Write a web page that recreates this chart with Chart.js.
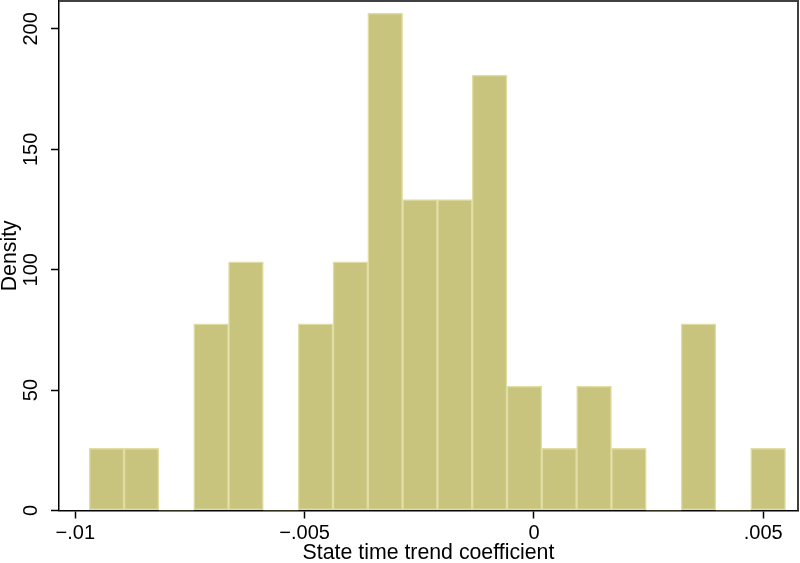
<!DOCTYPE html>
<html>
<head>
<meta charset="utf-8">
<script src="https://cdn.jsdelivr.net/npm/chart.js@4.4.0/dist/chart.umd.min.js"></script>
<style>
  html, body { margin: 0; padding: 0; background: #fff; }
  #wrap { width: 800px; height: 563px; }
</style>
</head>
<body>
<div id="wrap"><canvas id="hist" width="800" height="563"></canvas></div>
<script>
// Bin edges of the histogram (21 edges -> 20 bins)
const binEdges = [-0.009695, -0.008936, -0.008177, -0.007418, -0.006659, -0.005900,
    -0.005141, -0.004382, -0.003623, -0.002864, -0.002105, -0.001346, -0.000587,
    0.000172, 0.000931, 0.001690, 0.002449, 0.003208, 0.003967, 0.004726, 0.005485];
// Density of each bin
const densities = [25.8, 25.8, 0, 77.5, 103.3, 0, 77.5, 103.3, 206.6, 129.1,
    129.1, 180.8, 51.7, 25.8, 51.7, 25.8, 0, 77.5, 0, 25.8];

const xTickValues = [-0.01, -0.005, 0, 0.005];
const xTickLabels = ['\u2212.01', '\u2212.005', '0', '.005'];
const yTickValues = [0, 50, 100, 150, 200];
const yTickLabels = ['0', '50', '100', '150', '200'];

const fontFamily = '"Liberation Sans", Arial, Helvetica, sans-serif';

// bars are placed at the centre of each bin
const points = densities.map((d, i) => ({ x: (binEdges[i] + binEdges[i + 1]) / 2, y: d }));

// Stata-like frame and vertical y tick labels
const framePlugin = {
    id: 'frame',
    afterDraw(chart) {
        const ctx = chart.ctx;
        const area = chart.chartArea;
        const yScale = chart.scales.y;

        ctx.save();
        ctx.strokeStyle = '#404040';
        ctx.lineWidth = 2;
        ctx.beginPath();
        ctx.moveTo(area.left, area.top);
        ctx.lineTo(area.right, area.top);
        ctx.lineTo(area.right, area.bottom);
        ctx.stroke();

        ctx.fillStyle = '#000';
        ctx.font = '20px ' + fontFamily;
        ctx.textAlign = 'center';
        ctx.textBaseline = 'middle';
        yScale.ticks.forEach(t => {
            const idx = yTickValues.indexOf(t.value);
            if (idx < 0) return;
            const y = yScale.getPixelForValue(t.value);
            ctx.save();
            ctx.translate(31, y);
            ctx.rotate(-Math.PI / 2);
            ctx.fillText(yTickLabels[idx], 0, 0);
            ctx.restore();
        });
        ctx.restore();
    }
};

const ctx = document.getElementById('hist').getContext('2d');
new Chart(ctx, {
    type: 'bar',
    data: {
        datasets: [{
            data: points,
            backgroundColor: 'rgb(200, 196, 126)',
            borderColor: 'rgb(224, 221, 164)',
            borderWidth: c => (c.raw && c.raw.y > 0 ? 1.5 : 0),
            borderSkipped: false,
            barPercentage: 1,
            categoryPercentage: 1
        }]
    },
    options: {
        responsive: false,
        animation: false,
        layout: { padding: { top: 1, right: 2, left: 0, bottom: 0 } },
        plugins: {
            legend: { display: false },
            tooltip: { enabled: false }
        },
        scales: {
            x: {
                type: 'linear',
                offset: false,
                min: -0.010355,
                max: 0.005757,
                afterBuildTicks: scale => { scale.ticks = xTickValues.map(v => ({ value: v })); },
                afterFit: scale => { scale.height = 52.5; },
                ticks: {
                    color: '#000',
                    padding: 3,
                    maxRotation: 0,
                    font: { family: fontFamily, size: 20 },
                    callback: v => {
                        const idx = xTickValues.indexOf(v);
                        return idx < 0 ? '' : xTickLabels[idx];
                    }
                },
                grid: {
                    offset: false,
                    drawOnChartArea: false,
                    drawTicks: true,
                    tickLength: 8,
                    tickWidth: 1.5,
                    tickColor: '#000'
                },
                border: { color: '#000', width: 1.5 },
                title: {
                    display: true,
                    text: 'State time trend coefficient',
                    color: '#000',
                    font: { family: fontFamily, size: 21.3, lineHeight: 1 },
                    padding: { top: 0, bottom: -1 }
                }
            },
            y: {
                min: 0,
                max: 211.6,
                afterBuildTicks: scale => { scale.ticks = yTickValues.map(v => ({ value: v })); },
                afterFit: scale => { scale.width = 59; },
                ticks: { display: false },
                grid: {
                    drawOnChartArea: false,
                    drawTicks: true,
                    tickLength: 8,
                    tickWidth: 1.5,
                    tickColor: '#000'
                },
                border: { color: '#000', width: 1.5 },
                title: {
                    display: true,
                    text: 'Density',
                    color: '#000',
                    font: { family: fontFamily, size: 21.3, lineHeight: 1 },
                    padding: { top: -1, bottom: 0 }
                }
            }
        }
    },
    plugins: [framePlugin]
});
</script>
</body>
</html>
